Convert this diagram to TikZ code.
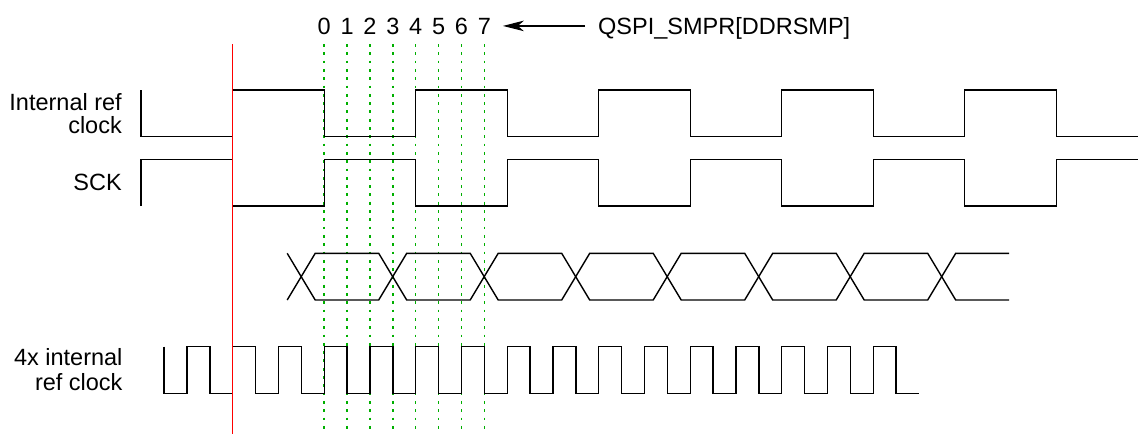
\documentclass[tikz,border=0pt]{standalone}
\usepackage{fontspec}
\setmainfont{Liberation Sans}
\usetikzlibrary{positioning, arrows.meta}
\definecolor{smpgreen}{RGB}{0,175,0}
\tikzset{wave/.style={draw, line width=1.4pt},
  sample line/.style={draw=smpgreen, line width=1.5pt, dash pattern=on 2.8pt off 5.5pt},
  sig label/.style={font=\fontsize{23.5}{22.3}\selectfont, align=right, anchor=east, inner sep=0pt},
  tick label/.style={font=\fontsize{23.5}{24}\selectfont, anchor=base, inner sep=0pt},}

\begin{document}
\begin{tikzpicture}[x=1pt, y=-1pt]
        \useasboundingbox (0,0) rectangle (1138,434);
        % Labels
        \node[sig label] (refclk) at (122,113.5) {Internal ref\\clock};
        \node[sig label] (sck) at (122,182.6) {SCK};
        \node[sig label, font=\fontsize{23.5}{25}\selectfont] (clkx4) at (122.7,369.5) {4x internal\\ref clock};
        % Sample points
        \foreach \k in {0,...,7}{
            \draw[sample line] ({324.2+22.875*\k},44) -- ({324.2+22.875*\k},432);
            \node[tick label] (d\k) at ({324.2+22.875*\k},34) {\k};
        }
        \node[tick label, anchor=base west] (smpr) at (598,34) {QSPI\_SMPR[DDRSMP]};
        \draw[line width=1.3pt, -{Stealth[length=21pt, width=10.5pt, inset=6pt]},
            shorten <=13pt, shorten >=11.8pt] (d7.east -| smpr.west) -- (d7.east);
        % Waves
        \draw[wave] (141,90) -- (141,136.7)
            \foreach \j in {0,...,4}{ -- ({232.7+183*\j},136.7) -- ({232.7+183*\j},90)
            -- ({324.2+183*\j},90) -- ({324.2+183*\j},136.7) } -- (1138,136.7);
        \draw[wave] (141,206) -- (141,159.3)
            \foreach \j in {0,...,4}{ -- ({232.7+183*\j},159.3) -- ({232.7+183*\j},206)
            -- ({324.2+183*\j},206) -- ({324.2+183*\j},159.3) } -- (1138,159.3);
        \draw[wave] (287.2,253.3)
            \foreach \j in {0,...,2}{ -- ({315.2+183*\j},300) -- ({378.7+183*\j},300)
            -- ({406.7+183*\j},253.3) -- ({470.2+183*\j},253.3) }
            -- (864.2,300) -- (927.7,300) -- (955.7,253.3) -- (1009,253.3);
        \draw[wave] (287.2,300)
            \foreach \j in {0,...,2}{ -- ({315.2+183*\j},253.3) -- ({378.7+183*\j},253.3)
            -- ({406.7+183*\j},300) -- ({470.2+183*\j},300) }
            -- (864.2,253.3) -- (927.7,253.3) -- (955.7,300) -- (1009,300);
        \draw[wave] (164.1,346.7) -- (164.1,393.3)
            \foreach \j in {0,...,15}{ -- ({186.95+45.75*\j},393.3) -- ({186.95+45.75*\j},346.7)
            -- ({209.83+45.75*\j},346.7) -- ({209.83+45.75*\j},393.3) } -- (919,393.3);
        % Reference edge
        \draw[red, line width=1.4pt] (232.7,44) -- (232.7,434);
    \end{tikzpicture}
\end{document}
